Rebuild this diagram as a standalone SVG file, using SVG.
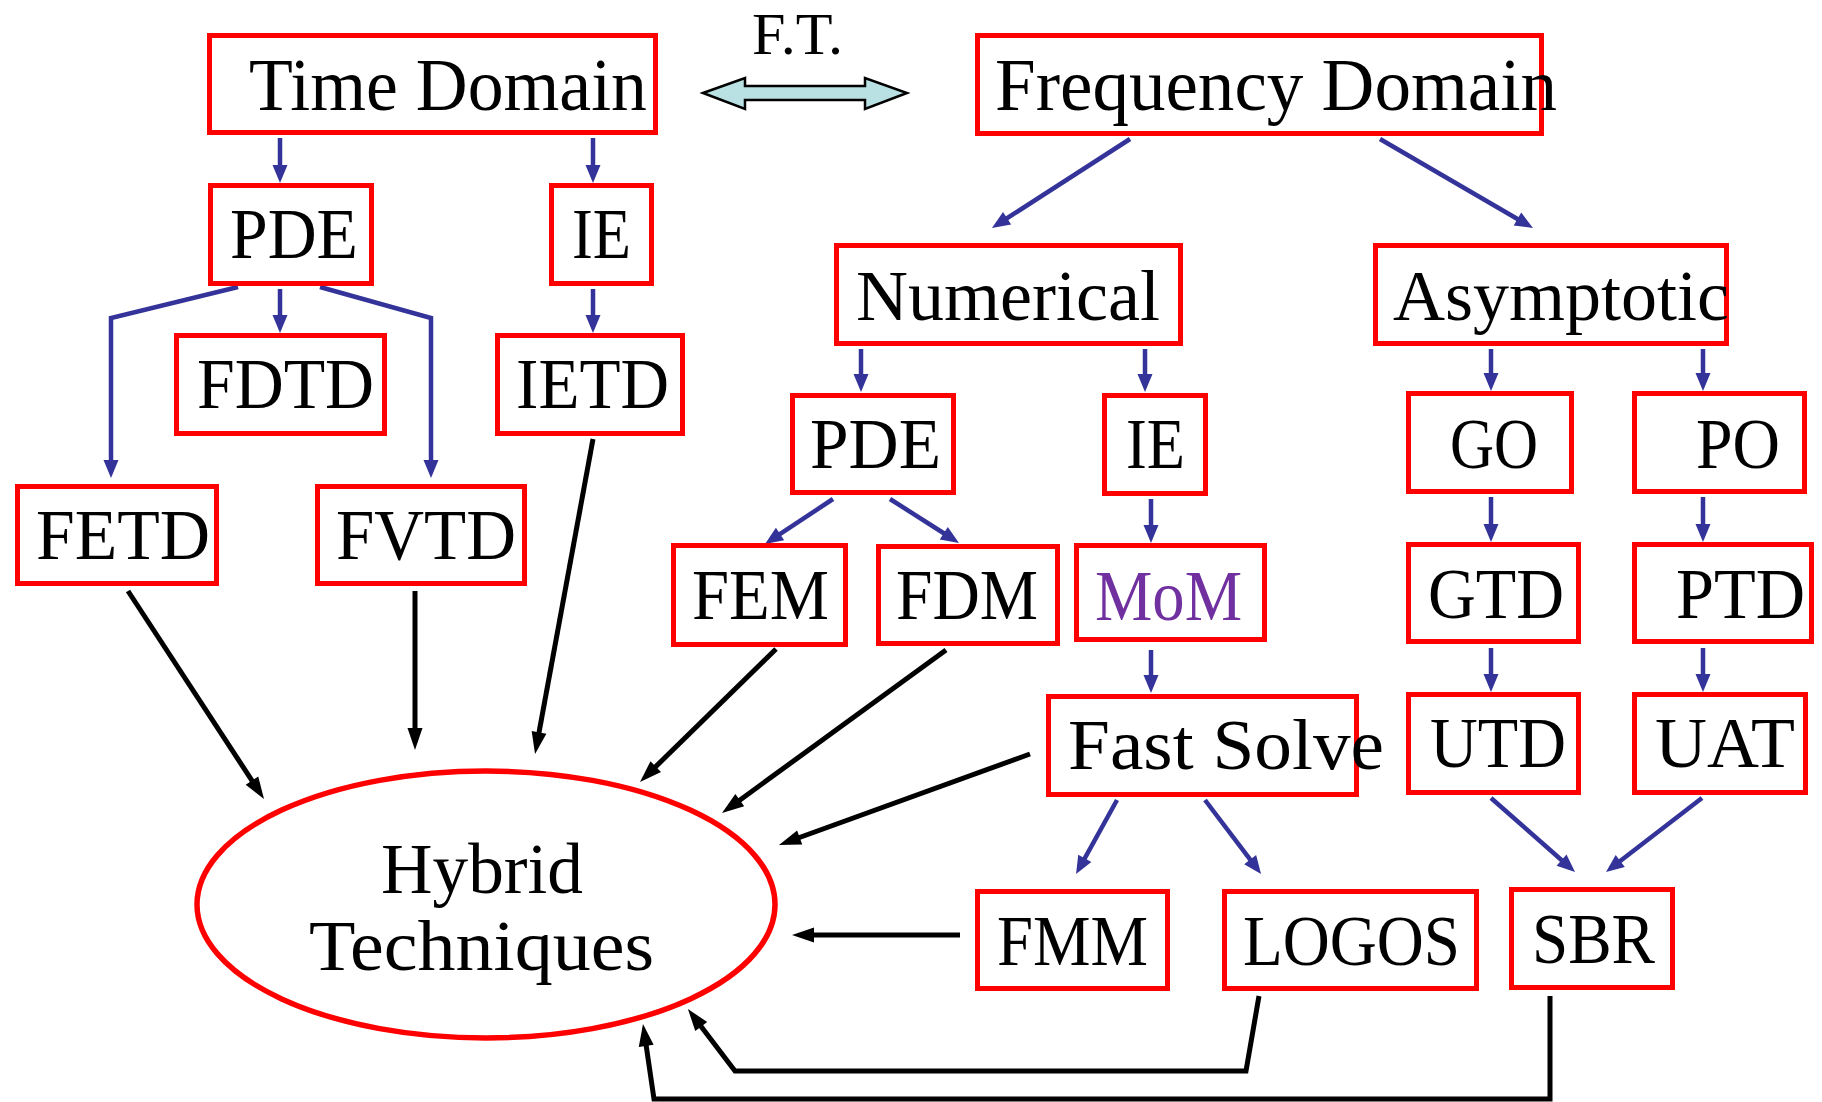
<svg xmlns="http://www.w3.org/2000/svg" width="1822" height="1102" viewBox="0 0 1822 1102">
<style>
.box{fill:#fff;stroke:#ff0000;stroke-width:5}
.t{font-family:"Liberation Serif","Times New Roman",serif;font-size:71px;fill:#000}
.big{font-size:73px}
.b{fill:none;stroke:#333399;stroke-width:4.5;marker-end:url(#ab)}
.k{fill:none;stroke:#000;stroke-width:5;marker-end:url(#ak)}
</style>
<defs>
<marker id="ab" markerUnits="userSpaceOnUse" markerWidth="18" markerHeight="15" refX="7" refY="7.5" orient="auto" overflow="visible">
<path d="M0,0 L18,7.5 L0,15 z" fill="#333399"/>
</marker>
<marker id="ak" markerUnits="userSpaceOnUse" markerWidth="22" markerHeight="15" refX="9" refY="7.5" orient="auto" overflow="visible">
<path d="M0,0 L22,7.5 L0,15 z" fill="#000"/>
</marker>
</defs>
<rect width="1822" height="1102" fill="#fff"/>

<g id="ft">
<text class="t" x="752" y="54" style="font-size:60px" textLength="91" lengthAdjust="spacingAndGlyphs">F.T.</text>
<polygon points="703,93 745,78 745,86 865,86 865,78 907,93 865,109 865,100 745,100 745,109" fill="#b9e1e3" stroke="#000" stroke-width="2.5"/>
</g>

<g id="connectors">
<line class="b" x1="280" y1="138" x2="280" y2="172"/>
<line class="b" x1="593" y1="138" x2="593" y2="172"/>
<line class="b" x1="280" y1="289" x2="280" y2="322"/>
<line class="b" x1="593" y1="289" x2="593" y2="322"/>
<polyline class="b" points="238,287 111,318 111,467"/>
<polyline class="b" points="320,287 431,318 431,467"/>
<line class="b" x1="1130" y1="139" x2="1001.2" y2="222"/>
<line class="b" x1="1380" y1="139" x2="1523.5" y2="222.5"/>
<line class="b" x1="861" y1="349" x2="861" y2="381"/>
<line class="b" x1="1145" y1="349" x2="1145" y2="381"/>
<line class="b" x1="1491" y1="349" x2="1491" y2="380"/>
<line class="b" x1="1703" y1="349" x2="1703" y2="380"/>
<line class="b" x1="833" y1="499" x2="774.2" y2="537.9"/>
<line class="b" x1="890" y1="499" x2="949.7" y2="537"/>
<line class="b" x1="1151" y1="499" x2="1151" y2="532"/>
<line class="b" x1="1491" y1="497" x2="1491" y2="531"/>
<line class="b" x1="1703" y1="497" x2="1703" y2="531"/>
<line class="b" x1="1151" y1="650" x2="1151" y2="682"/>
<line class="b" x1="1491" y1="648" x2="1491" y2="681"/>
<line class="b" x1="1703" y1="648" x2="1703" y2="681"/>
<line class="b" x1="1117" y1="800" x2="1081.4" y2="864.4"/>
<line class="b" x1="1205" y1="800" x2="1254.4" y2="865.2"/>
<line class="b" x1="1491" y1="798" x2="1566.8" y2="864.7"/>
<line class="b" x1="1702" y1="798" x2="1614.7" y2="865.3"/>

<line class="k" x1="128" y1="591" x2="256.9" y2="788.1"/>
<line class="k" x1="415" y1="591" x2="415" y2="737"/>
<line class="k" x1="593" y1="439" x2="537.4" y2="741.2"/>
<line class="k" x1="776" y1="649" x2="649.3" y2="772.9"/>
<line class="k" x1="946" y1="650" x2="732.5" y2="805.4"/>
<line class="k" x1="1030" y1="754" x2="791.2" y2="840.5"/>
<line class="k" x1="960" y1="935" x2="805" y2="935"/>
<polyline class="k" points="1259,996 1246,1071 735,1071 695.8,1019.4"/>
<polyline class="k" points="1550,996 1550,1099 654,1099 644.9,1036.9"/>
</g>

<g id="time-domain"><rect class="box" x="209.5" y="35.5" width="446" height="97"/><text class="t big" x="249" y="110" textLength="398" lengthAdjust="spacingAndGlyphs">Time Domain</text></g>
<g id="frequency-domain"><rect class="box" x="977.5" y="35.5" width="564" height="98"/><text class="t big" x="995" y="110" textLength="562" lengthAdjust="spacingAndGlyphs">Frequency Domain</text></g>
<g id="pde-t"><rect class="box" x="210.5" y="185.5" width="161" height="98"/><text class="t" x="230" y="258" textLength="128" lengthAdjust="spacingAndGlyphs">PDE</text></g>
<g id="ie-t"><rect class="box" x="551.5" y="185.5" width="100" height="98"/><text class="t" x="572" y="258" textLength="59" lengthAdjust="spacingAndGlyphs">IE</text></g>
<g id="fdtd"><rect class="box" x="176.5" y="335.5" width="208" height="98"/><text class="t" x="197" y="408" textLength="177" lengthAdjust="spacingAndGlyphs">FDTD</text></g>
<g id="ietd"><rect class="box" x="497.5" y="335.5" width="185" height="98"/><text class="t" x="516" y="408" textLength="153" lengthAdjust="spacingAndGlyphs">IETD</text></g>
<g id="fetd"><rect class="box" x="17.5" y="486.5" width="199" height="97"/><text class="t" x="36" y="559" textLength="174" lengthAdjust="spacingAndGlyphs">FETD</text></g>
<g id="fvtd"><rect class="box" x="317.5" y="486.5" width="207" height="97"/><text class="t" x="336" y="559" textLength="180" lengthAdjust="spacingAndGlyphs">FVTD</text></g>

<g id="numerical"><rect class="box" x="836.5" y="245.5" width="344" height="98"/><text class="t" x="856" y="320" style="font-size:72px" textLength="304" lengthAdjust="spacingAndGlyphs">Numerical</text></g>
<g id="asymptotic"><rect class="box" x="1375.5" y="245.5" width="351" height="98"/><text class="t" x="1393" y="320" style="font-size:72px" textLength="336" lengthAdjust="spacingAndGlyphs">Asymptotic</text></g>
<g id="pde-n"><rect class="box" x="792.5" y="395.5" width="161" height="97"/><text class="t" x="810" y="468" textLength="131" lengthAdjust="spacingAndGlyphs">PDE</text></g>
<g id="ie-n"><rect class="box" x="1104.5" y="395.5" width="101" height="98"/><text class="t" x="1126" y="468" textLength="59" lengthAdjust="spacingAndGlyphs">IE</text></g>
<g id="go"><rect class="box" x="1408.5" y="393.5" width="163" height="98"/><text class="t" x="1450" y="468" textLength="88" lengthAdjust="spacingAndGlyphs">GO</text></g>
<g id="po"><rect class="box" x="1634.5" y="393.5" width="170" height="98"/><text class="t" x="1696" y="468" textLength="84" lengthAdjust="spacingAndGlyphs">PO</text></g>
<g id="fem"><rect class="box" x="673.5" y="545.5" width="172" height="99"/><text class="t" x="692" y="619" textLength="137" lengthAdjust="spacingAndGlyphs">FEM</text></g>
<g id="fdm"><rect class="box" x="878.5" y="546.5" width="179" height="97"/><text class="t" x="896" y="619" textLength="142" lengthAdjust="spacingAndGlyphs">FDM</text></g>
<g id="mom"><rect class="box" x="1076.5" y="545.5" width="188" height="94"/><text class="t" x="1095" y="620" style="fill:#7030a0" textLength="147" lengthAdjust="spacingAndGlyphs">MoM</text></g>
<g id="gtd"><rect class="box" x="1408.5" y="544.5" width="170" height="97"/><text class="t" x="1428" y="618" textLength="136" lengthAdjust="spacingAndGlyphs">GTD</text></g>
<g id="ptd"><rect class="box" x="1634.5" y="544.5" width="177" height="97"/><text class="t" x="1676" y="618" textLength="129" lengthAdjust="spacingAndGlyphs">PTD</text></g>
<g id="fast-solve"><rect class="box" x="1048.5" y="696.5" width="308" height="98"/><text class="t" x="1068" y="769" textLength="316" lengthAdjust="spacingAndGlyphs">Fast Solve</text></g>
<g id="utd"><rect class="box" x="1408.5" y="694.5" width="170" height="98"/><text class="t" x="1430" y="767" textLength="136" lengthAdjust="spacingAndGlyphs">UTD</text></g>
<g id="uat"><rect class="box" x="1634.5" y="694.5" width="171" height="98"/><text class="t" x="1655" y="767" textLength="140" lengthAdjust="spacingAndGlyphs">UAT</text></g>
<g id="fmm"><rect class="box" x="977.5" y="891.5" width="190" height="97"/><text class="t" x="997" y="965" textLength="151" lengthAdjust="spacingAndGlyphs">FMM</text></g>
<g id="logos"><rect class="box" x="1224.5" y="891.5" width="252" height="97"/><text class="t" x="1243" y="965" textLength="217" lengthAdjust="spacingAndGlyphs">LOGOS</text></g>
<g id="sbr"><rect class="box" x="1511.5" y="889.5" width="161" height="98"/><text class="t" x="1532" y="963" textLength="123" lengthAdjust="spacingAndGlyphs">SBR</text></g>

<g id="hybrid"><ellipse cx="486" cy="904.5" rx="289" ry="133.5" fill="#fff" stroke="#ff0000" stroke-width="5.5"/>
<text class="t" x="381" y="893" style="font-size:72px" textLength="202" lengthAdjust="spacingAndGlyphs">Hybrid</text>
<text class="t" x="309" y="970" style="font-size:72px" textLength="345" lengthAdjust="spacingAndGlyphs">Techniques</text></g>
</svg>
